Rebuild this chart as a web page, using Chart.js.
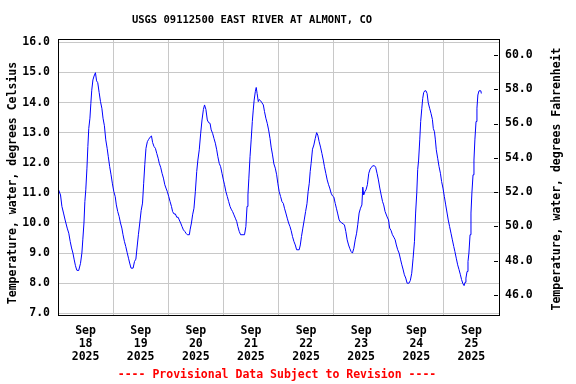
<!DOCTYPE html>
<html>
<head>
<meta charset="utf-8">
<script src="https://cdn.jsdelivr.net/npm/chart.js@4/dist/chart.umd.min.js"></script>
<style>
  body { margin: 0; background: #fff; }
  canvas { display: block; }
</style>
</head>
<body>
<canvas id="tempChart" width="576" height="384"></canvas>
<script>
// Hours since Sep 18 2025 00:00, and water temperature (deg C)
const hours = [
  0.0, 1.1, 1.7, 2.4, 3.1, 4.0, 4.7, 5.3, 5.9, 6.5, 7.0, 7.6, 8.2, 9.0, 9.8, 10.4, 10.8, 11.3, 11.7, 12.1,
  12.6, 13.0, 13.4, 13.9, 14.3, 14.7, 15.2, 15.7, 16.3, 16.8, 17.3, 17.9, 18.5, 19.1, 19.6, 20.2, 20.8, 21.4,
  21.9, 22.5, 23.1, 23.7, 24.3, 24.9, 25.4, 26.0, 26.6, 27.2, 27.8, 28.3, 28.9, 29.5, 30.1, 30.7, 31.2, 31.8,
  32.7, 33.3, 33.9, 34.4, 35.0, 35.6, 36.2, 36.8, 37.3, 37.8, 38.3, 38.9, 39.5, 40.1, 40.7, 41.2, 41.8, 42.4,
  43.0, 43.6, 44.1, 44.7, 45.3, 45.9, 46.5, 47.0,
  47.6, 48.2, 48.8, 49.4, 49.9, 50.5, 51.1, 51.7, 52.3, 52.8, 53.4, 54.0, 54.6, 55.2, 55.7, 56.3, 57.2, 57.5,
  58.1, 58.6, 59.2, 59.8, 60.4, 60.9, 61.5, 62.1, 62.7, 63.3, 63.8, 64.4, 65.0, 65.6, 66.2, 66.7, 67.3, 67.9,
  68.5, 69.1, 69.6, 70.2, 70.8, 71.4, 72.0, 72.5, 73.1, 73.7, 74.3, 74.9, 75.4, 76.0, 76.6, 77.2, 77.8, 78.3,
  78.9, 79.5, 81.2, 81.8, 82.3, 82.7, 83.1, 83.6, 84.1, 84.6, 85.0, 85.4, 85.9, 86.3, 86.7, 87.2, 87.6, 88.2,
  88.8, 89.4, 89.9, 90.5, 91.1, 91.7, 92.3, 92.8, 93.4, 94.0, 94.6, 95.2,
  95.7, 96.3, 96.9, 97.5, 98.1, 98.6, 99.2, 99.8, 100.4, 101.0, 101.5, 102.1, 102.7, 103.3, 103.9, 105.0,
  105.5, 106.0, 106.6, 107.2, 107.8, 108.4, 108.9, 109.4, 109.8, 110.2, 110.8, 111.4, 112.0, 112.6, 113.1,
  113.7, 114.3, 114.9, 115.5, 116.0, 116.6, 117.2, 117.8, 118.3, 118.9, 119.5, 120.1, 120.7, 121.2, 121.8,
  122.4, 123.0, 123.6, 124.1, 124.7, 125.3, 125.9, 126.5, 127.0, 127.6, 128.2, 128.8, 129.4, 130.0, 130.5,
  131.1, 131.7, 132.3, 132.7, 133.1, 133.6, 134.1, 134.7, 135.3, 135.9, 136.5, 137.0, 137.8, 138.3, 138.9,
  139.5, 140.1, 140.7, 141.3, 141.8, 142.4,
  143.3, 143.9, 144.4, 145.0, 145.6, 146.2, 146.8, 147.3, 147.9, 148.5, 149.1, 149.7, 150.2, 150.8, 151.4,
  152.0, 152.8, 153.4, 154.0, 154.6, 155.2, 155.7, 156.2, 156.6, 157.0, 157.5, 157.9, 158.4, 158.8, 159.2,
  159.7, 160.2, 160.7, 161.2, 161.8, 162.4, 163.0, 163.4, 163.9, 164.3, 164.7, 165.3, 165.9, 166.5, 167.0,
  167.6, 168.2, 168.8, 169.4, 169.9, 170.5, 171.1, 171.7, 172.3, 172.8, 173.4, 174.0, 174.6, 175.2, 175.7,
  176.3, 176.8, 177.2, 177.6, 178.1, 178.5, 178.9, 179.4, 179.8, 180.2, 180.7, 181.1, 181.5, 182.0, 182.4,
  182.8, 183.3, 184.1, 184.3
];
const tempC = [
  11.15, 10.93, 10.55, 10.33, 10.1, 9.83, 9.66, 9.39, 9.17, 9.0, 8.8, 8.58, 8.43, 8.42, 8.66, 9.0, 9.44, 10.0, 10.71, 11.1,
  11.82, 12.54, 13.14, 13.48, 13.97, 14.41, 14.75, 14.88, 14.99, 14.72, 14.66, 14.34, 14.03, 13.81, 13.48, 13.23, 12.76, 12.48,
  12.2, 11.87, 11.6, 11.3, 11.04, 10.88, 10.6, 10.38, 10.22, 10.0, 9.83, 9.61, 9.39, 9.22, 9.02, 8.83, 8.67, 8.5,
  8.5, 8.72, 8.8, 9.17, 9.61, 10.0, 10.41, 10.66, 11.32, 11.95, 12.48, 12.7, 12.78, 12.85, 12.89, 12.67, 12.54, 12.48,
  12.31, 12.15, 11.98, 11.85, 11.65, 11.49, 11.27, 11.16,
  11.04, 10.88, 10.71, 10.55, 10.38, 10.3, 10.3, 10.19, 10.19, 10.1, 10.0, 9.88, 9.77, 9.72, 9.66, 9.61, 9.61, 9.77,
  10.0, 10.27, 10.49, 11.04, 11.71, 12.09, 12.43, 12.96, 13.42, 13.77, 13.92, 13.77, 13.42, 13.33, 13.31, 13.09, 12.98, 12.81,
  12.65, 12.43, 12.2, 11.98, 11.87, 11.65, 11.43, 11.27, 11.04, 10.88, 10.71, 10.55, 10.46, 10.38, 10.27, 10.16, 10.05, 9.88,
  9.72, 9.61, 9.61, 9.88, 10.55, 10.93, 11.49, 12.2, 12.76, 13.37, 13.75, 14.08, 14.36, 14.5, 14.3, 14.03, 14.1, 14.06,
  13.99, 13.92, 13.7, 13.48, 13.31, 13.09, 12.81, 12.52, 12.26, 11.96, 11.82, 11.6,
  11.32, 11.04, 10.88, 10.71, 10.65, 10.49, 10.33, 10.16, 10.0, 9.88, 9.75, 9.55, 9.39, 9.27, 9.11, 9.11,
  9.27, 9.55, 9.83, 10.1, 10.38, 10.64, 11.04, 11.32, 11.71, 11.98, 12.45, 12.59, 12.81, 13.0, 12.92,
  12.7, 12.52, 12.31, 12.09, 11.87, 11.65, 11.43, 11.27, 11.16, 10.99, 10.9, 10.86, 10.65, 10.49, 10.3,
  10.1, 10.03, 10.0, 9.97, 9.94, 9.72, 9.44, 9.27, 9.16, 9.05, 9.0, 9.16, 9.44, 9.66, 9.94,
  10.33, 10.49, 10.6, 11.19, 10.93, 11.04, 11.1, 11.27, 11.65, 11.79, 11.85, 11.9, 11.9, 11.85, 11.65,
  11.43, 11.16, 10.93, 10.71, 10.6, 10.38,
  10.2, 10.1, 9.83, 9.75, 9.61, 9.53, 9.44, 9.27, 9.11, 9.0, 8.8, 8.61, 8.47, 8.28, 8.17,
  8.0, 8.0, 8.09, 8.33, 8.83, 9.39, 10.33, 11.0, 11.77, 12.09, 12.76, 13.37, 13.81, 14.14, 14.33,
  14.39, 14.39, 14.3, 13.99, 13.81, 13.64, 13.44, 13.14, 13.03, 12.76, 12.43, 12.15, 11.87, 11.65, 11.38,
  11.16, 10.88, 10.6, 10.33, 10.1, 9.88, 9.66, 9.44, 9.22, 9.05, 8.83, 8.61, 8.45, 8.28, 8.12,
  7.98, 7.92, 8.03, 8.17, 8.39, 8.72, 9.0, 9.61, 10.33, 11.0, 11.6, 12.09, 12.76, 13.37, 13.81,
  14.25, 14.39, 14.39, 14.3
];

// Axis ticks
const dayStartHours = [0, 24, 48, 72, 96, 120, 144, 168, 192];
const dayLabelHours = [12, 36, 60, 84, 108, 132, 156, 180];
const dayLabels = ['18', '19', '20', '21', '22', '23', '24', '25'];
const celsiusTicks = [7, 8, 9, 10, 11, 12, 13, 14, 15, 16];
const fahrenheitTicks = [46, 48, 50, 52, 54, 56, 58, 60];

const titleText = 'USGS 09112500 EAST RIVER AT ALMONT, CO';
const footerText = '---- Provisional Data Subject to Revision ----';
const leftTitle = 'Temperature, water, degrees Celsius';
const rightTitle = 'Temperature, water, degrees Fahrenheit';

const monoFont = '"DejaVu Sans Mono", "Liberation Mono", monospace';
const tickFont = { family: monoFont, size: 11.5, weight: 'bold' };
const gridColor = '#c8c8c8';

// Frame, inner F ticks and the free text around the plot
const framePlugin = {
  id: 'frame',
  afterDraw(chart) {
    const { ctx, chartArea: a } = chart;
    ctx.save();

    // inner tick marks for the Fahrenheit axis
    const f = chart.scales.yF;
    ctx.strokeStyle = '#000';
    ctx.lineWidth = 1;
    f.ticks.forEach(t => {
      const y = Math.round(f.getPixelForValue(t.value)) + 0.5;
      ctx.beginPath();
      ctx.moveTo(a.right - 5, y);
      ctx.lineTo(a.right - 1, y);
      ctx.stroke();
    });

    ctx.strokeRect(a.left + 0.5, a.top + 0.5, a.right - a.left, a.bottom - a.top);

    ctx.fillStyle = '#000';
    ctx.textAlign = 'center';
    ctx.textBaseline = 'middle';
    ctx.font = 'bold 10.5px ' + monoFont;
    ctx.fillText(titleText, 252, 20);

    ctx.font = 'bold 11.5px ' + monoFont;
    ctx.fillStyle = '#ff0000';
    ctx.fillText(footerText, 277, 375);

    ctx.fillStyle = '#000';
    ctx.save();
    ctx.translate(13, 183);
    ctx.rotate(-Math.PI / 2);
    ctx.fillText(leftTitle, 0, 0);
    ctx.restore();

    ctx.save();
    ctx.translate(557, 179);
    ctx.rotate(-Math.PI / 2);
    ctx.fillText(rightTitle, 0, 0);
    ctx.restore();

    ctx.restore();
  }
};

const points = hours.map((h, i) => ({ x: h, y: tempC[i] }));

const ctx = document.getElementById('tempChart').getContext('2d');
new Chart(ctx, {
  type: 'line',
  data: {
    datasets: [{
      data: points,
      borderColor: '#0000ff',
      borderWidth: 1,
      pointRadius: 0,
      tension: 0,
      fill: false
    }]
  },
  options: {
    responsive: false,
    animation: false,
    layout: { padding: { top: 39, left: 0, right: 0, bottom: 0 } },
    plugins: {
      legend: { display: false },
      title: { display: false },
      tooltip: { enabled: false }
    },
    scales: {
      x: {
        type: 'linear',
        min: 0,
        max: 192,
        afterBuildTicks: scale => {
          scale.ticks = dayStartHours.concat(dayLabelHours)
            .sort((a, b) => a - b)
            .map(v => ({ value: v }));
        },
        afterFit: scale => { scale.height = 69; },
        border: { display: false },
        grid: {
          drawTicks: false,
          color: c => (c.tick && dayStartHours.includes(c.tick.value)) ? gridColor : 'rgba(0,0,0,0)'
        },
        ticks: {
          autoSkip: false,
          maxRotation: 0,
          padding: 10,
          color: '#000',
          font: { ...tickFont, lineHeight: 1.12 },
          callback: value => {
            const i = dayLabelHours.indexOf(value);
            return i >= 0 ? ['Sep', dayLabels[i], '2025'] : '';
          }
        }
      },
      y: {
        position: 'left',
        min: 6.944,
        max: 16.11,
        afterBuildTicks: scale => { scale.ticks = celsiusTicks.map(v => ({ value: v })); },
        afterFit: scale => { scale.width = 58; },
        border: { display: false },
        grid: { color: gridColor, drawTicks: false },
        ticks: {
          padding: 8,
          color: '#000',
          font: tickFont,
          callback: v => v.toFixed(1)
        }
      },
      yF: {
        position: 'right',
        min: 44.83,
        max: 60.93,
        afterBuildTicks: scale => { scale.ticks = fahrenheitTicks.map(v => ({ value: v })); },
        afterFit: scale => { scale.width = 77; },
        border: { display: false },
        grid: { drawOnChartArea: false, drawTicks: false },
        ticks: {
          padding: 6,
          color: '#000',
          font: tickFont,
          callback: v => v.toFixed(1)
        }
      }
    }
  },
  plugins: [framePlugin]
});
</script>
</body>
</html>
